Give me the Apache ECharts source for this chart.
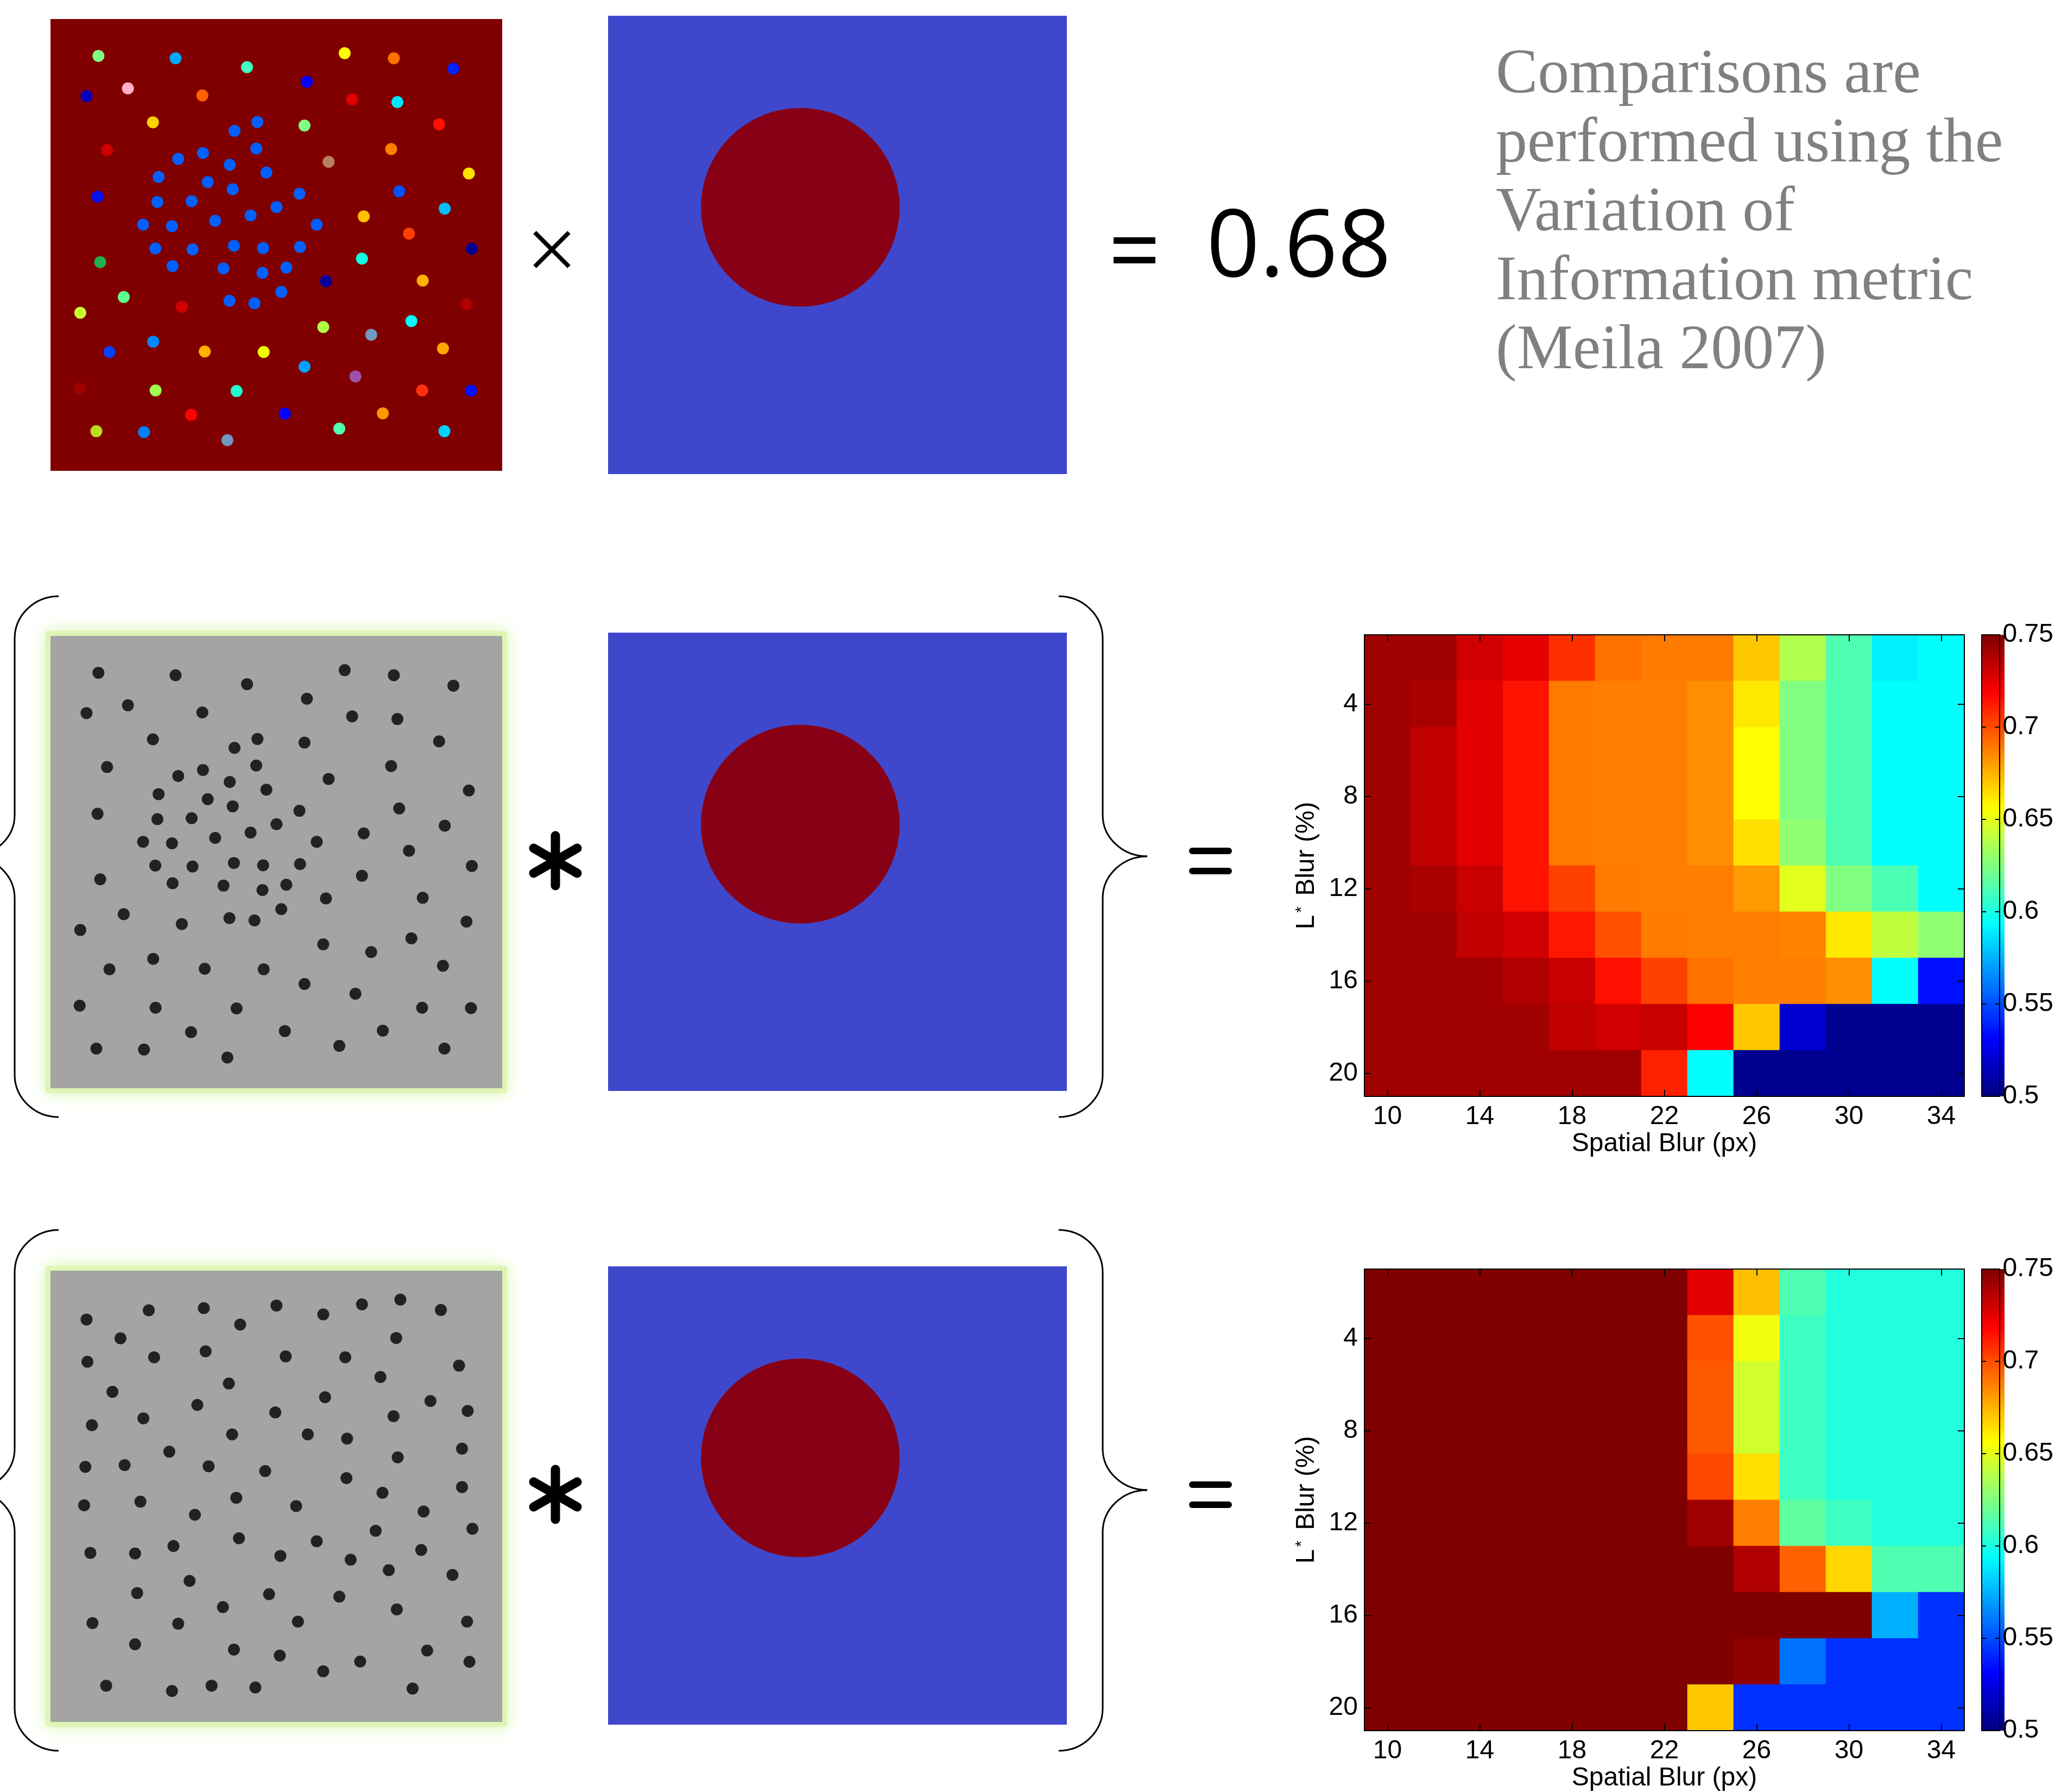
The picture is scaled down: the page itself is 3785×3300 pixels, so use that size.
<!DOCTYPE html>
<html><head><meta charset="utf-8">
<script src="https://cdn.jsdelivr.net/npm/echarts@6/dist/echarts.min.js"></script>
<style>html,body{margin:0;padding:0;background:#fff}#c{width:3785px;height:3300px}</style>
</head><body><div id="c"></div><script>
// ---------- data ----------
const spatialBlur = ['10','12','14','16','18','20','22','24','26','28','30','32','34'];
const lBlur = ['2','4','6','8','10','12','14','16','18','20'];

// VI scores, rows = L* blur 2..20 (top to bottom), cols = spatial blur 10..34
const hm1Rows = [
 [0.742,0.742,0.730,0.725,0.707,0.691,0.689,0.689,0.670,0.637,0.613,0.590,0.594],
 [0.742,0.740,0.726,0.714,0.689,0.688,0.688,0.684,0.662,0.625,0.613,0.594,0.594],
 [0.742,0.734,0.726,0.714,0.689,0.688,0.688,0.684,0.656,0.625,0.613,0.594,0.594],
 [0.742,0.734,0.726,0.714,0.689,0.688,0.688,0.684,0.656,0.625,0.613,0.594,0.594],
 [0.742,0.734,0.726,0.714,0.689,0.688,0.688,0.684,0.664,0.629,0.613,0.594,0.594],
 [0.742,0.740,0.732,0.714,0.703,0.689,0.688,0.688,0.681,0.649,0.625,0.612,0.594],
 [0.742,0.742,0.734,0.730,0.713,0.699,0.689,0.688,0.688,0.687,0.662,0.641,0.629],
 [0.742,0.742,0.742,0.738,0.732,0.715,0.703,0.691,0.688,0.688,0.684,0.594,0.535],
 [0.742,0.742,0.742,0.742,0.734,0.730,0.732,0.719,0.670,0.520,0.504,0.504,0.504],
 [0.742,0.742,0.742,0.742,0.742,0.742,0.711,0.594,0.504,0.504,0.504,0.504,0.504]
];
const hm2Rows = [
 [0.750,0.750,0.750,0.750,0.750,0.750,0.750,0.726,0.672,0.613,0.602,0.602,0.602],
 [0.750,0.750,0.750,0.750,0.750,0.750,0.750,0.699,0.653,0.609,0.602,0.602,0.602],
 [0.750,0.750,0.750,0.750,0.750,0.750,0.750,0.697,0.645,0.609,0.602,0.602,0.602],
 [0.750,0.750,0.750,0.750,0.750,0.750,0.750,0.697,0.645,0.609,0.602,0.602,0.602],
 [0.750,0.750,0.750,0.750,0.750,0.750,0.750,0.701,0.664,0.609,0.602,0.602,0.602],
 [0.750,0.750,0.750,0.750,0.750,0.750,0.750,0.742,0.688,0.617,0.609,0.602,0.602],
 [0.750,0.750,0.750,0.750,0.750,0.750,0.750,0.750,0.738,0.695,0.666,0.613,0.613],
 [0.750,0.750,0.750,0.750,0.750,0.750,0.750,0.750,0.750,0.750,0.750,0.574,0.543],
 [0.750,0.750,0.750,0.750,0.750,0.750,0.750,0.750,0.746,0.559,0.543,0.543,0.543],
 [0.750,0.750,0.750,0.750,0.750,0.750,0.750,0.670,0.543,0.543,0.543,0.543,0.543]
];
const scoreMin = 0.5, scoreMax = 0.75, scoreStep = 0.05;
const comparisonScore = '0.68';
const noteLines = ['Comparisons are','performed using the','Variation of','Information metric','(Meila 2007)'];

// dot positions (image pixel coords) for segmentation panels
const dotsA = [[185,151],[444,159],[684,189],[1012,142],[1177,159],[1377,194],[284,260],[145,286],[534,284],[885,238],
[1037,297],[1189,306],[368,374],[642,403],[719,373],[877,385],[1329,381],[214,467],[453,497],[536,477],
[715,462],[626,517],[1168,464],[958,507],[1429,546],[387,558],[552,575],[749,543],[636,599],[182,624],
[383,642],[498,639],[860,614],[1195,606],[783,659],[1348,664],[696,687],[1076,690],[335,718],[432,723],
[577,705],[918,718],[1228,748],[376,798],[501,801],[640,789],[738,797],[862,793],[1439,799],[191,844],
[1070,832],[434,857],[605,865],[736,880],[816,862],[949,908],[1274,906],[270,961],[799,944],[124,1014],
[465,994],[625,974],[709,982],[1421,986],[940,1062],[1236,1042],[1101,1088],[369,1111],[222,1146],[542,1144],
[740,1146],[1342,1134],[877,1195],[1048,1228],[122,1268],[377,1275],[649,1277],[1272,1275],[1436,1276],[496,1357],
[811,1353],[1140,1352],[178,1412],[338,1415],[618,1442],[994,1403],[1347,1412]];
const dotColorsA = ['#80ff80','#00a8ff','#40ffc0','#ffff00','#ff7000','#0020ff','#ffb0c8','#0000c0','#ff6000','#0000ff',
'#e00000','#00e8ff','#ffd000','#0060ff','#0060ff','#80ff80','#ff1000','#d00000','#0060ff','#0060ff',
'#0060ff','#0060ff','#ff8000','#b88060','#ffe000','#0060ff','#0060ff','#0060ff','#0060ff','#0010f0',
'#0060ff','#0060ff','#0060ff','#0050ff','#0060ff','#00c0ff','#0060ff','#ffc000','#0060ff','#0060ff',
'#0060ff','#0060ff','#ff4000','#0060ff','#0060ff','#0060ff','#0060ff','#0060ff','#000090','#20b050',
'#10ffe0','#0060ff','#0060ff','#0060ff','#0060ff','#0000a0','#ffb000','#60ff90','#0060ff','#c8ff30',
'#d00000','#0060ff','#0060ff','#b00000','#b0ff40','#00ffff','#7098c0','#0088ff','#0040ff','#ffb000',
'#f0ff00','#ffa800','#00a0ff','#a050a8','#a00000','#a0ff50','#20ffd0','#ff3010','#0010ff','#ff0000',
'#0000ff','#ff9800','#b8e020','#0080ff','#7098c0','#50ffb0','#00d0ff'];
const dotsB = [[145,191],[354,160],[539,153],[783,144],[940,174],[1070,140],[1199,124],[1335,159],[661,208],[259,254],
[1185,253],[148,333],[372,318],[545,298],[814,315],[1014,318],[1396,346],[1132,384],[623,406],[232,434],
[946,452],[1300,465],[517,478],[779,503],[1176,516],[1425,498],[163,546],[336,523],[634,577],[888,577],
[1020,591],[1406,625],[423,635],[1190,654],[141,686],[273,680],[555,684],[745,700],[1018,724],[1139,773],
[1406,754],[137,815],[326,803],[648,790],[849,818],[509,847],[1277,836],[1116,901],[1441,894],[657,926],
[918,936],[158,975],[308,977],[437,952],[796,985],[1032,998],[1269,965],[1160,1033],[1374,1049],[491,1069],
[315,1110],[758,1114],[994,1122],[603,1157],[1187,1165],[165,1211],[453,1213],[855,1206],[1423,1206],[308,1282],
[640,1300],[794,1320],[1064,1340],[1289,1303],[1431,1341],[940,1373],[211,1421],[432,1439],[565,1421],[712,1427],
[1240,1431]];
const groundTruthCenter = [0.419, 0.418];

// ---------- helpers ----------
const jet = ['#000080','#0000ff','#0080ff','#00ffff','#80ff80','#ffff00','#ff8000','#ff0000','#800000'];
function hmData(rows){ const d=[]; rows.forEach((row,r)=>row.forEach((v,c)=>d.push([c,r,v]))); return d; }
const FONT = 'Liberation Sans';
const axLine = {show:true, onZero:false, lineStyle:{color:'#000', width:2}};
const tickStyle = {color:'#000', width:2};
const HM_W = 1105, HM_H = 850;

const grids = [
 {left:93, top:35, width:832, height:832, show:true, backgroundColor:'#800000', borderWidth:0},
 {left:93, top:1171, width:832, height:833, show:true, backgroundColor:'#a4a4a4', borderWidth:0},
 {left:93, top:2340, width:832, height:831, show:true, backgroundColor:'#a4a4a4', borderWidth:0},
 {left:1120, top:29, width:845, height:844, show:true, backgroundColor:'#3f48cc', borderWidth:0},
 {left:1120, top:1165, width:845, height:844, show:true, backgroundColor:'#3f48cc', borderWidth:0},
 {left:1120, top:2332, width:845, height:844, show:true, backgroundColor:'#3f48cc', borderWidth:0},
 {left:2513, top:1169, width:HM_W, height:HM_H},
 {left:2513, top:2337, width:HM_W, height:HM_H},
 {left:3650, top:1169, width:42, height:HM_H},
 {left:3650, top:2337, width:42, height:HM_H}
];

const xAxes = [], yAxes = [];
// dot panels
[1545,1545,1543].forEach((m,i)=>{
  xAxes.push({type:'value', gridIndex:i, min:24, max:1541, show:false});
  yAxes.push({type:'value', gridIndex:i, min:27, max:m, inverse:true, show:false});
});
// ground truth panels
[3,4,5].forEach(g=>{
  xAxes.push({type:'value', gridIndex:g, min:0, max:1, show:false});
  yAxes.push({type:'value', gridIndex:g, min:0, max:1, inverse:true, show:false});
});
// heatmaps
[6,7].forEach(g=>{
  const xi = (i)=>i%2===0, yi = (i)=>i%2===1;
  xAxes.push({type:'category', gridIndex:g, position:'bottom', data:spatialBlur, z:10, axisLine:axLine,
    axisTick:{show:true, inside:true, length:12, alignWithLabel:true, interval:xi, lineStyle:tickStyle},
    axisLabel:{interval:xi, color:'#000', fontSize:48, fontFamily:FONT, margin:14},
    splitLine:{show:false}, name:'Spatial Blur (px)', nameLocation:'middle', nameGap:64,
    nameTextStyle:{color:'#000', fontSize:48, fontFamily:FONT}});
  xAxes.push({type:'category', gridIndex:g, position:'top', data:spatialBlur, z:10, axisLine:axLine,
    axisTick:{show:true, inside:true, length:12, alignWithLabel:true, interval:xi, lineStyle:tickStyle},
    axisLabel:{show:false}, splitLine:{show:false}});
  yAxes.push({type:'category', gridIndex:g, position:'left', data:lBlur, inverse:true, z:10, axisLine:axLine,
    axisTick:{show:true, inside:true, length:12, alignWithLabel:true, interval:yi, lineStyle:tickStyle},
    axisLabel:{interval:yi, color:'#000', fontSize:48, fontFamily:FONT, margin:12},
    splitLine:{show:false}, name:'L{s|*} Blur (%)', nameLocation:'middle', nameGap:82,
    nameTextStyle:{color:'#000', fontSize:48, fontFamily:FONT, rich:{s:{fontSize:30, fontFamily:FONT, color:'#000', verticalAlign:'top', padding:[0,6,18,4]}}}});
  yAxes.push({type:'category', gridIndex:g, position:'right', data:lBlur, inverse:true, z:10, axisLine:axLine,
    axisTick:{show:true, inside:true, length:12, alignWithLabel:true, interval:yi, lineStyle:tickStyle},
    axisLabel:{show:false}, splitLine:{show:false}});
});
// colorbar frames
[8,9].forEach(g=>{
  ['bottom','top'].forEach(p=>xAxes.push({type:'value', gridIndex:g, position:p, min:0, max:1, z:10, axisLine:axLine,
    axisTick:{show:false}, axisLabel:{show:false}, splitLine:{show:false}}));
  yAxes.push({type:'value', gridIndex:g, position:'left', min:scoreMin, max:scoreMax, interval:scoreStep, z:10, axisLine:axLine,
    axisTick:{show:true, inside:true, length:8, lineStyle:tickStyle}, axisLabel:{show:false}, splitLine:{show:false}});
  yAxes.push({type:'value', gridIndex:g, position:'right', min:scoreMin, max:scoreMax, interval:scoreStep, z:10, axisLine:axLine,
    axisTick:{show:true, inside:true, length:8, lineStyle:tickStyle},
    axisLabel:{show:true, color:'#000', fontSize:48, fontFamily:FONT, margin:6, formatter:(v)=>String(+(+v).toFixed(2))},
    splitLine:{show:false}});
});

const series = [
 {type:'scatter', xAxisIndex:0, yAxisIndex:0, symbolSize:22, silent:true, itemStyle:{opacity:1},
  data: dotsA.map((p,i)=>({value:p, itemStyle:{color:dotColorsA[i], opacity:1}}))},
 {type:'scatter', xAxisIndex:1, yAxisIndex:1, symbolSize:22, silent:true, itemStyle:{color:'#222222', opacity:1}, data: dotsA},
 {type:'scatter', xAxisIndex:2, yAxisIndex:2, symbolSize:22, silent:true, itemStyle:{color:'#222222', opacity:1}, data: dotsB},
 {type:'scatter', xAxisIndex:3, yAxisIndex:3, symbolSize:366, silent:true, itemStyle:{color:'#880015', opacity:1}, data:[groundTruthCenter]},
 {type:'scatter', xAxisIndex:4, yAxisIndex:4, symbolSize:366, silent:true, itemStyle:{color:'#880015', opacity:1}, data:[groundTruthCenter]},
 {type:'scatter', xAxisIndex:5, yAxisIndex:5, symbolSize:366, silent:true, itemStyle:{color:'#880015', opacity:1}, data:[groundTruthCenter]},
 {type:'heatmap', xAxisIndex:6, yAxisIndex:6, data:hmData(hm1Rows), silent:true, emphasis:{disabled:true}},
 {type:'heatmap', xAxisIndex:8, yAxisIndex:8, data:hmData(hm2Rows), silent:true, emphasis:{disabled:true}}
];

const visualMap = [1169, 2337].map((top,i)=>({type:'continuous', seriesIndex:6+i, min:scoreMin, max:scoreMax,
  calculable:false, hoverLink:false, left:3650, top:top, itemWidth:42, itemHeight:HM_H, padding:0,
  text:null, inRange:{color:jet}}));

// ---------- decorations ----------
const graphic = [];
// soft green glow behind the gray panels
[[1171,833],[2340,831]].forEach(([t,h])=>{
  graphic.push({type:'rect', z:-10, shape:{x:93-9, y:t-9, width:832+18, height:h+18, r:4},
    style:{fill:'#def5b6', shadowBlur:30, shadowColor:'#d8f3aa'}});
});
function brace(xe, yTop, dir){
  const xv = xe + dir*81, xt = xv + dir*82, k = 0.55;
  const y = [yTop, yTop+78, yTop+403, yTop+479, yTop+556, yTop+881, yTop+959];
  const st = {stroke:'#000', lineWidth:3, fill:null};
  graphic.push({type:'bezierCurve', shape:{x1:xe,y1:y[0], cpx1:xe+dir*81*k, cpy1:y[0], cpx2:xv, cpy2:y[1]-78*k, x2:xv, y2:y[1]}, style:st});
  graphic.push({type:'line', shape:{x1:xv,y1:y[1],x2:xv,y2:y[2]}, style:st});
  graphic.push({type:'bezierCurve', shape:{x1:xv,y1:y[2], cpx1:xv, cpy1:y[2]+76*k, cpx2:xt-dir*82*k, cpy2:y[3], x2:xt, y2:y[3]}, style:st});
  graphic.push({type:'bezierCurve', shape:{x1:xt,y1:y[3], cpx1:xt-dir*82*k, cpy1:y[3], cpx2:xv, cpy2:y[4]-77*k, x2:xv, y2:y[4]}, style:st});
  graphic.push({type:'line', shape:{x1:xv,y1:y[4],x2:xv,y2:y[5]}, style:st});
  graphic.push({type:'bezierCurve', shape:{x1:xv,y1:y[5], cpx1:xv, cpy1:y[5]+78*k, cpx2:xe+dir*81*k, cpy2:y[6], x2:xe, y2:y[6]}, style:st});
}
[0, 1167].forEach(off=>{
  brace(108, 1098+off, -1);
  brace(1950, 1098+off, 1);
  // asterisk
  const cx = 1023, cy = 1585+off;
  [[0,46],[40,23],[-40,23]].forEach(([dx,dy])=>{
    graphic.push({type:'line', shape:{x1:cx-dx,y1:cy-dy,x2:cx+dx,y2:cy+dy}, style:{stroke:'#000', lineWidth:17, lineCap:'round'}});
  });
  // equals
  graphic.push({type:'rect', shape:{x:2190,y:1561+off,width:79,height:12,r:6}, style:{fill:'#000'}});
  graphic.push({type:'rect', shape:{x:2190,y:1598+off,width:79,height:12,r:6}, style:{fill:'#000'}});
});
// top row: times sign, equals, score, note
graphic.push({type:'line', shape:{x1:985,y1:428,x2:1048,y2:491}, style:{stroke:'#000', lineWidth:8}});
graphic.push({type:'line', shape:{x1:1048,y1:428,x2:985,y2:491}, style:{stroke:'#000', lineWidth:8}});
graphic.push({type:'rect', shape:{x:2051,y:437,width:77,height:12}, style:{fill:'#000'}});
graphic.push({type:'rect', shape:{x:2051,y:473,width:77,height:12}, style:{fill:'#000'}});
graphic.push({type:'text', x:2222, y:460, style:{text:comparisonScore, font:'172px "Open Sans"', fill:'#000', verticalAlign:'middle', align:'left'}});
graphic.push({type:'text', x:2755, y:76, style:{text:noteLines.join('\n'), font:'116px "Liberation Serif"', lineHeight:127, fill:'#808080', verticalAlign:'top', align:'left'}});

const chart = echarts.init(document.getElementById('c'), null, {renderer:'canvas'});
chart.setOption({animation:false, backgroundColor:'#ffffff', grid:grids, xAxis:xAxes, yAxis:yAxes,
  visualMap:visualMap, series:series, graphic:graphic});
</script></body></html>
